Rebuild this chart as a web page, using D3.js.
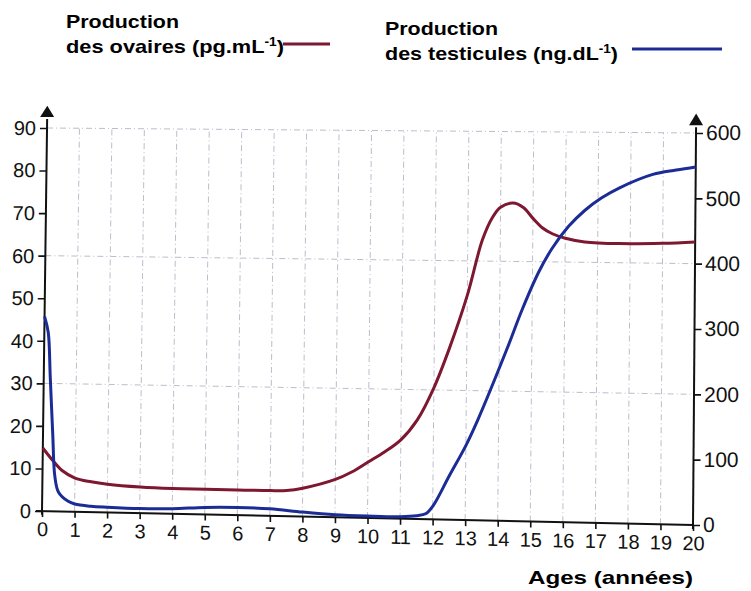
<!DOCTYPE html>
<html>
    <head>
        <title>Production des ovaires et des testicules</title>
        <script src="https://d3js.org/d3.v7.min.js"></script>
        <style>
            body { margin:0; background:#fff; }
            svg { display:block; font-family:"Liberation Sans", Arial, sans-serif; }
        </style>
    </head>
    <body>
        <svg id="chart" width="751" height="591"></svg>
    </body>
    <script>
        // values
        const agesOvaires = [0, 0.3, 0.6, 1, 1.5, 2, 3, 4, 5, 6, 7, 7.5, 8, 9, 9.5, 10, 10.5, 11, 11.5, 12, 12.47, 13, 13.45, 13.76, 14, 14.38, 14.7, 15, 15.3, 15.6, 16, 16.6, 17.66, 19, 20];
        const ovaires = [14.8, 12, 9.6, 7.9, 7.1, 6.6, 6.1, 5.9, 5.9, 5.9, 5.9, 6.0, 6.6, 8.8, 10.6, 13, 15.4, 18.3, 23, 30.5, 39.8, 52, 64.9, 70.2, 72.5, 73.5, 72.5, 70, 67.8, 66.5, 65.5, 64.7, 64.4, 64.6, 65];

        const agesTesticules = [0, 0.12, 0.2, 0.3, 0.38, 0.5, 0.8, 1, 1.5, 2, 3, 4, 5, 6, 7, 8, 9, 10, 11, 11.5, 11.8, 12.01, 12.5, 13, 13.36, 14.22, 14.7, 15.2, 15.6, 16.1, 16.6, 17.1, 17.66, 18.68, 19.4, 20];
        const testicules = [305, 280, 210, 120, 55, 30, 16, 12, 9, 8, 7, 8, 11, 12, 11, 7, 4, 3, 3, 5, 9, 21, 68, 115, 155, 263, 327, 385, 421, 455, 480, 499, 515, 536, 543, 548];

        const xTicks = d3.range(0, 21);
        const leftTicks = [0, 10, 20, 30, 40, 50, 60, 70, 80, 90];
        const rightTicks = [0, 100, 200, 300, 400, 500, 600];
        const gridY = [30, 60, 90];

        const red = '#7d1830';
        const blue = '#1c2c96';

        const svg = d3.select('#chart');

        // pixel scales used by the axes
        const x = d3.scaleLinear().domain([0, 20]).range([42, 693]);
        const yL = d3.scaleLinear().domain([0, 90]).range([511, 128]);
        const yR = d3.scaleLinear().domain([0, 600]).range([525, 133]);

        // the scan is skewed, so the plot frame is a quadrilateral:
        // map (fraction along x, fraction up) onto its four corners
        const xN = d3.scaleLinear().domain([0, 20]).range([0, 1]);
        const yLN = d3.scaleLinear().domain([0, 90]).range([0, 1]);
        const yRN = d3.scaleLinear().domain([0, 600]).range([0, 1]);
        function proj(u, v) {
            const bx = 42 + 651 * u, by = 511 + 14 * u;
            const tx = 47 + 649 * u, ty = 128 + 5 * u;
            return [bx + (tx - bx) * v, by + (ty - by) * v];
        }

        // dashed grid
        const gridStyle = sel => sel
            .attr('stroke', '#bdbdcc')
            .attr('stroke-width', 1)
            .attr('stroke-dasharray', '6,3,1,3')
            .attr('fill', 'none');
        svg.append('g').selectAll('path')
            .data(xTicks.slice(1))
            .join('path')
            .attr('d', d => d3.line()([proj(xN(d), 0), proj(xN(d), 1)]))
            .call(gridStyle);
        svg.append('g').selectAll('path')
            .data(gridY)
            .join('path')
            .attr('d', d => d3.line()([proj(0, yLN(d)), proj(1, yLN(d))]))
            .call(gridStyle);

        // axes, each one skewed to follow the frame
        const xAxis = svg.append('g')
            .attr('transform', 'translate(42,511) matrix(1,0.0215,0,1,0,0) translate(-42,0)')
            .call(d3.axisBottom(x).tickValues(xTicks).tickSize(6).tickPadding(5));
        const leftAxis = svg.append('g')
            .attr('transform', 'translate(42,511) matrix(1,0,-0.013,1,0,0) translate(0,-511)')
            .call(d3.axisLeft(yL).tickValues(leftTicks).tickSize(7).tickPadding(4));
        const rightAxis = svg.append('g')
            .attr('transform', 'translate(693,525) matrix(1,0,-0.0077,1,0,0) translate(0,-525)')
            .call(d3.axisRight(yR).tickValues(rightTicks).tickSize(7).tickPadding(3));

        [xAxis, leftAxis, rightAxis].forEach(a => {
            a.select('.domain').remove();
            a.selectAll('line').attr('stroke', '#111').attr('stroke-width', 1.6);
            a.selectAll('text').attr('fill', '#111').attr('font-size', 20);
        });
        rightAxis.selectAll('text').attr('font-size', 21);

        // axis lines with arrows
        const p0 = proj(0, 0), p1 = proj(1, 0);
        svg.append('line')
            .attr('x1', p0[0] - 6).attr('y1', p0[1] - 0.1)
            .attr('x2', p1[0]).attr('y2', p1[1])
            .attr('stroke', '#111').attr('stroke-width', 2);
        [[0, 1.029, 1.058], [1, 1.02, 1.05]].forEach(([u, vb, vt]) => {
            const bot = proj(u, -0.01), base = proj(u, vb), tip = proj(u, vt);
            svg.append('line')
                .attr('x1', bot[0]).attr('y1', bot[1])
                .attr('x2', base[0]).attr('y2', base[1] + 2)
                .attr('stroke', '#111').attr('stroke-width', 2);
            svg.append('path')
                .attr('d', `M${tip[0]},${tip[1]} L${base[0] - 7},${base[1]} L${base[0] + 7},${base[1]} Z`)
                .attr('fill', '#111');
        });

        // curves
        const lineOv = d3.line()
            .x((d, i) => proj(xN(agesOvaires[i]), yLN(d))[0])
            .y((d, i) => proj(xN(agesOvaires[i]), yLN(d))[1])
            .curve(d3.curveCatmullRom.alpha(0.5));
        const lineTe = d3.line()
            .x((d, i) => proj(xN(agesTesticules[i]), yRN(d))[0])
            .y((d, i) => proj(xN(agesTesticules[i]), yRN(d))[1])
            .curve(d3.curveCatmullRom.alpha(0.5));

        svg.append('path')
            .attr('d', lineOv(ovaires))
            .attr('fill', 'none')
            .attr('stroke', red)
            .attr('stroke-width', 3);
        svg.append('path')
            .attr('d', lineTe(testicules))
            .attr('fill', 'none')
            .attr('stroke', blue)
            .attr('stroke-width', 3);

        // x title
        svg.append('text')
            .attr('x', 528).attr('y', 584)
            .attr('font-size', 19).attr('font-weight', 'bold')
            .attr('textLength', 165).attr('lengthAdjust', 'spacingAndGlyphs')
            .text('Ages (années)');

        // legend
        function legendItem(x0, y0, unit, unitW, lineX1, lineX2, lineY, color) {
            svg.append('text')
                .attr('x', x0).attr('y', y0)
                .attr('font-size', 19).attr('font-weight', 'bold')
                .attr('textLength', 113).attr('lengthAdjust', 'spacingAndGlyphs')
                .text('Production');
            const t = svg.append('text')
                .attr('x', x0).attr('y', y0 + 25)
                .attr('font-size', 19).attr('font-weight', 'bold')
                .attr('textLength', unitW).attr('lengthAdjust', 'spacingAndGlyphs');
            t.append('tspan').text(unit);
            t.append('tspan').attr('font-size', 12).attr('dy', -7).text('-1');
            t.append('tspan').attr('dy', 7).text(')');
            svg.append('line')
                .attr('x1', lineX1).attr('x2', lineX2)
                .attr('y1', lineY).attr('y2', lineY)
                .attr('stroke', color).attr('stroke-width', 3);
        }
        legendItem(66, 28, 'des ovaires (pg.mL', 218, 283, 330, 44, red);
        legendItem(385, 35, 'des testicules (ng.dL', 233, 632, 722, 49, blue);
    </script>
</html>
